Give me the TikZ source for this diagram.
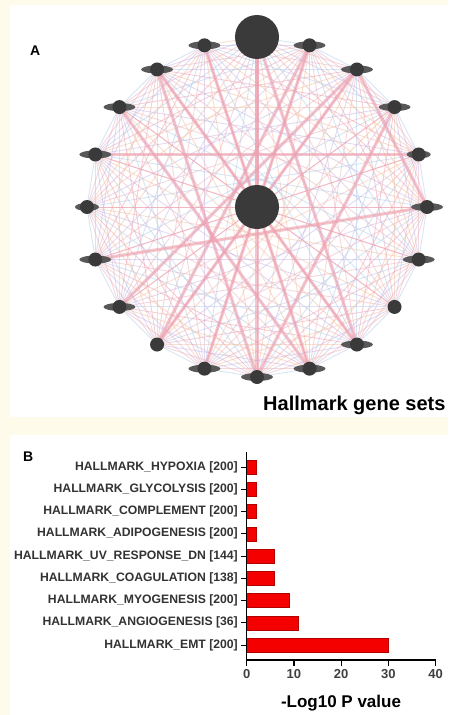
\documentclass[tikz,border=0pt]{standalone}
\usepackage{fontspec}
\setmainfont{Liberation Sans}
\usetikzlibrary{positioning,shapes.geometric}
\definecolor{cream}{RGB}{255,251,234}
\definecolor{nodegray}{RGB}{58,58,58}
\definecolor{barred}{RGB}{245,0,0}
\definecolor{e0}{RGB}{238,160,176}
\definecolor{e1}{RGB}{200,182,228}
\definecolor{e2}{RGB}{176,204,235}
\definecolor{e3}{RGB}{244,192,160}
\definecolor{e4}{RGB}{236,178,190}

\begin{document}
\begin{tikzpicture}[x=1pt,y=-1pt,
    panel/.style={fill=white,draw=none},
    thinedge/.style={line width=0.9pt,opacity=0.5},
    thickedge/.style={line width=3.2pt,color=e0,opacity=0.6},
    hubnode/.style={circle,fill=nodegray,minimum size=44pt,inner sep=0pt},
    genecore/.style={circle,fill=nodegray,minimum size=14pt,inner sep=0pt},
    genewing/.style={ellipse,fill=nodegray!85,minimum height=8pt,inner sep=0pt},
    hmbar/.style={fill=barred,draw=red!70!black,line width=0.5pt},
    ticklab/.style={inner sep=0pt,font=\fontsize{13}{13}\selectfont\bfseries\color{black!75}},
    setlab/.style={anchor=east,inner sep=0pt,font=\fontsize{12.2}{12}\selectfont\bfseries\color{black!80}},
    panellab/.style={anchor=base west,inner sep=0pt,font=\fontsize{14}{14}\selectfont\bfseries}
  ]
  \fill[cream] (0,0) rectangle (448,715);
  \useasboundingbox (0,0) rectangle (448,715);
  \fill[panel] (10,5) rectangle (448,417);
  \fill[panel] (10,435) rectangle (448,715);

  % network
  \coordinate (hub) at (257,207);
  \foreach \i in {0,...,19}
    \coordinate (g\i) at ({257+170*cos(90-18*\i)},{207-170*sin(90-18*\i)});

  \foreach \i in {0,...,19}{
    \draw[thinedge,e0] (hub) -- (g\i);
    \foreach \j in {\i,...,19}{
      \ifnum\j>\i
        \pgfmathtruncatemacro\c{mod(3*\i+7*\j,5)}
        \draw[thinedge,color=e\c] (g\i) -- (g\j);
      \fi
    }
  }
  \foreach \a/\b in {18/10,2/12,1/12,18/8,2/5,0/10,19/9,1/11,3/10,17/9,0/8,16/4,13/2,5/14}
    \draw[thickedge] (g\a) -- (g\b);
  \draw[thickedge] (g0) -- (hub);

  \node[hubnode] (hubtop) at (g0) {};
  \node[hubnode] (hubmid) at (hub) {};
  \foreach \i/\w in {1/32,2/32,3/32,4/24,5/32,6/32,7/0,8/32,9/32,10/32,11/32,12/0,13/32,14/32,15/24,16/32,17/32,18/32,19/32}{
    \ifnum\w>0 \node[genewing,minimum width=\w pt] (wing\i) at (g\i) {}; \fi
    \node[genecore] (gene\i) at (g\i) {};
  }

  \node[panellab] (labA) at (30,55) {A};
  \node[anchor=base west,inner sep=0pt,font=\fontsize{20}{20}\selectfont\bfseries] (title) at (263,410) {Hallmark gene sets};

  % bar chart
  \def\xz{246.7}
  \node[panellab] (labB) at (23,461) {B};
  \foreach \k/\lab/\val in {1/HALLMARK\_HYPOXIA [200]/2.1,
      2/HALLMARK\_GLYCOLYSIS [200]/2.1,
      3/HALLMARK\_COMPLEMENT [200]/2.1,
      4/HALLMARK\_ADIPOGENESIS [200]/2.1,
      5/HALLMARK\_UV\_RESPONSE\_DN [144]/5.8,
      6/HALLMARK\_COAGULATION [138]/5.8,
      7/HALLMARK\_MYOGENESIS [200]/9.0,
      8/HALLMARK\_ANGIOGENESIS [36]/10.9,
      9/HALLMARK\_EMT [200]/30.0}{
    \pgfmathsetmacro\yy{467+(\k-1)*22.25}
    \draw[hmbar] (\xz,\yy-7) rectangle ({\xz+4.72*\val},\yy+7);
    \draw[line width=1pt] (\xz,\yy) -- ++(-6,0);
    \node[setlab] (set\k) at (238,\yy) {\lab};
  }
  \draw[line width=1.2pt] (\xz,452) -- (\xz,660) -- (436,660);
  \foreach \t in {0,10,20,30,40}
    \draw[line width=1.2pt] ({\xz+4.72*\t},660) -- ++(0,6) node[ticklab,below=3pt] {\t};
  \node[font=\fontsize{17}{17}\selectfont\bfseries] (xlab) at (341,703) {-Log10 P value};
\end{tikzpicture}
\end{document}
